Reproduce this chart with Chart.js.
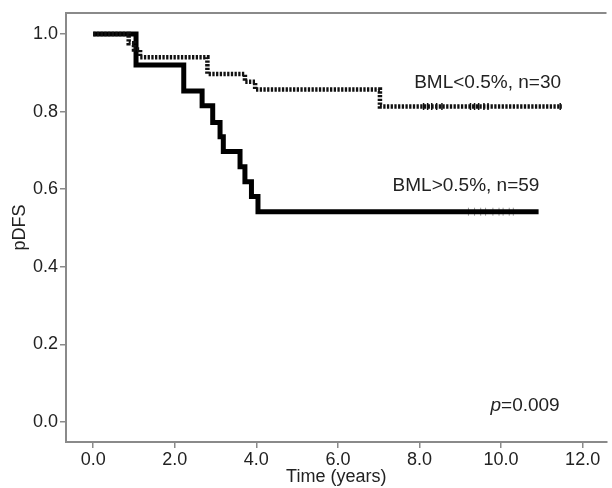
<!DOCTYPE html>
<html><head><meta charset="utf-8">
<script src="https://cdn.jsdelivr.net/npm/chart.js@4"></script>
<style>html,body{margin:0;padding:0;background:#fff;overflow:hidden}</style>
</head><body>
<canvas id="c" width="612" height="488"></canvas>
<script>
// Kaplan-Meier curves (time in years, survival proportion)
const lowTimes  = [0, 0.87, 1.0, 1.15, 2.8, 3.72, 3.97, 7.03, 11.49];
const lowSurv   = [1.0, 0.976, 0.96, 0.94, 0.897, 0.877, 0.857, 0.813, 0.813];
const highTimes = [0, 1.05, 2.22, 2.67, 2.93, 3.11, 3.19, 3.6, 3.72, 3.88, 4.04, 10.92];
const highSurv  = [1.0, 0.92, 0.853, 0.815, 0.772, 0.735, 0.697, 0.658, 0.619, 0.581, 0.542, 0.542];
const lowCensorTimes  = [8.1, 8.2, 8.3, 8.42, 8.55, 9.25, 9.35, 9.45, 9.58, 9.68, 11.45];
const highCensorTimes = [9.2, 9.35, 9.5, 9.62, 9.8, 9.95, 10.05, 10.2, 10.3];
const xTickValues = [0, 2, 4, 6, 8, 10, 12];
const yTickValues = [0, 0.2, 0.4, 0.6, 0.8, 1.0];
const seriesLabels = ['BML<0.5%, n=30', 'BML>0.5%, n=59'];
const pValueText = '0.009';
const xTitle = 'Time (years)';
const yTitle = 'pDFS';

const FONT = '"Liberation Sans", Arial, sans-serif';
const AXIS = '#8a8a8a';

function pts(t, s) { return t.map((v, i) => ({x: v, y: s[i]})); }
function levelAt(t, s, time) { let v = s[0]; for (let i = 0; i < t.length; i++) if (t[i] <= time) v = s[i]; return v; }
function censor(ct, t, s) { return ct.map(v => ({x: v, y: levelAt(t, s, v)})); }

const annot = {
  id: 'annot',
  afterDraw(chart) {
    const {ctx, chartArea, scales: {x, y}} = chart;
    ctx.save();
    ctx.strokeStyle = AXIS; ctx.lineWidth = 2;
    ctx.beginPath(); ctx.moveTo(chartArea.left - 1, chartArea.top); ctx.lineTo(chartArea.right, chartArea.top); ctx.stroke();
    ctx.fillStyle = '#222';
    ctx.font = '19px ' + FONT;
    ctx.textAlign = 'center'; ctx.textBaseline = 'middle';
    ctx.fillText(seriesLabels[0], x.getPixelForValue(9.67), y.getPixelForValue(0.874));
    ctx.fillText(seriesLabels[1], x.getPixelForValue(9.14), y.getPixelForValue(0.608));
    ctx.textAlign = 'left';
    const px = x.getPixelForValue(9.74), py = y.getPixelForValue(0.041);
    ctx.font = 'italic 19px ' + FONT;
    ctx.fillText('p', px, py);
    const w = ctx.measureText('p').width;
    ctx.font = '19px ' + FONT;
    ctx.fillText('=' + pValueText, px + w, py);
    ctx.restore();
  }
};

new Chart(document.getElementById('c'), {
  type: 'scatter',
  data: {
    datasets: [
      {label: seriesLabels[0], data: pts(lowTimes, lowSurv), showLine: true, stepped: true,
       borderColor: '#111', borderWidth: 4.5, borderDash: [2.3, 1.4], borderCapStyle: 'butt', pointRadius: 0, fill: false},
      {label: seriesLabels[1], data: pts(highTimes, highSurv), showLine: true, stepped: true,
       borderColor: '#000', borderWidth: 5, borderCapStyle: 'butt', pointRadius: 0, fill: false},
      {label: 'c1', data: censor(lowCensorTimes, lowTimes, lowSurv), showLine: false,
       pointStyle: 'line', rotation: 90, pointRadius: 3.5, borderColor: '#111', borderWidth: 1.5},
      {label: 'c2', data: censor(highCensorTimes, highTimes, highSurv), showLine: false,
       pointStyle: 'line', rotation: 90, pointRadius: 4, borderColor: '#9a9a9a', borderWidth: 1}
    ]
  },
  options: {
    responsive: false, animation: false,
    layout: {padding: {top: 13, right: 0, left: 0, bottom: 0}},
    plugins: {legend: {display: false}, tooltip: {enabled: false}},
    scales: {
      x: {
        type: 'linear', min: -0.667, max: 12.585,
        afterBuildTicks: s => { s.ticks = xTickValues.map(v => ({value: v})); },
        afterFit: s => { s.height = 46; },
        grid: {display: true, drawOnChartArea: false, drawTicks: true, tickLength: 6, color: AXIS, lineWidth: 1.5},
        border: {display: true, color: AXIS, width: 2},
        ticks: {color: '#222', font: {family: FONT, size: 18}, padding: 1, maxRotation: 0, autoSkip: false,
                callback: v => Number(v).toFixed(1)},
        title: {display: true, text: xTitle, color: '#222', font: {family: FONT, size: 18}, padding: 0}
      },
      y: {
        min: -0.0515, max: 1.0541,
        afterBuildTicks: s => { s.ticks = yTickValues.map(v => ({value: v})); },
        afterFit: s => { s.width = 66; },
        grid: {display: true, drawOnChartArea: false, drawTicks: true, tickLength: 6, color: AXIS, lineWidth: 1.5},
        border: {display: true, color: AXIS, width: 2},
        ticks: {color: '#222', font: {family: FONT, size: 18}, padding: 2, autoSkip: false,
                callback: v => Number(v).toFixed(1)},
        title: {display: true, text: yTitle, color: '#222', font: {family: FONT, size: 18}, padding: {top: 9, bottom: 0}}
      }
    }
  },
  plugins: [annot]
});
</script>
</body></html>
